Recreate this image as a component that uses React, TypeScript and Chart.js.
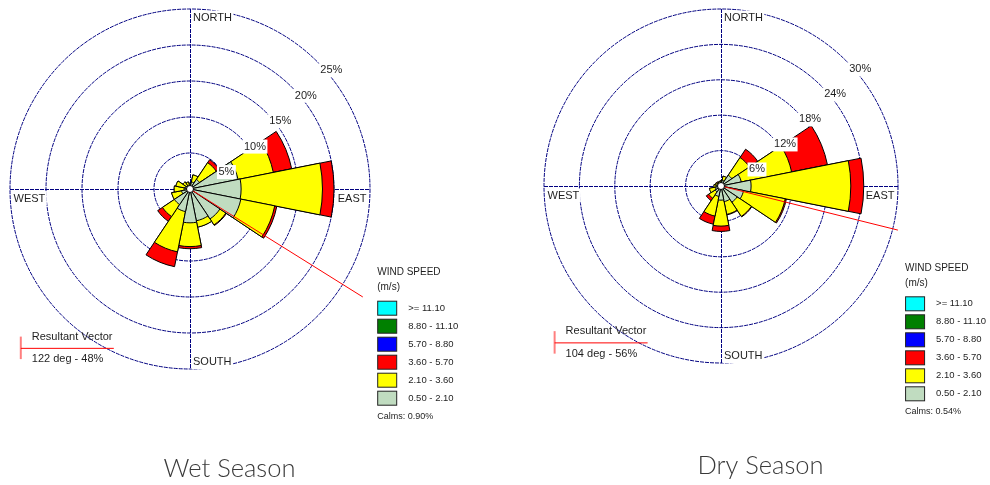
import React, { useEffect, useRef } from "react";
import { Chart, registerables } from "chart.js";

Chart.register(...registerables);

// ---------- data ----------
const directions = ["N", "NNE", "NE", "ENE", "E", "ESE", "SE", "SSE", "S", "SSW", "SW", "WSW", "W", "WNW", "NW", "NNW"];
const speedLabels = [">= 11.10", "8.80 - 11.10", "5.70 - 8.80", "3.60 - 5.70", "2.10 - 3.60", "0.50 - 2.10"];
const speedColors = ["#00ffff", "#008000", "#0000ff", "#ff0000", "#ffff00", "#c0dcc0"];

// Wet season frequency (%) per direction, by speed class
const wetLow = [0.5, 1.0, 1.6, 6.8, 7.1, 7.2, 5.0, 4.5, 4.7, 3.2, 2.6, 1.2, 0.8, 0.7, 0.5, 0.5]; // 0.50 - 2.10
const wetMid = [0.3, 1.0, 2.8, 5.0, 11.3, 4.8, 1.0, 0.9, 3.3, 5.7, 2.0, 1.4, 1.4, 1.3, 0.7, 0.5]; // 2.10 - 3.60
const wetHigh = [0, 0, 0.5, 2.6, 1.6, 0.3, 0.1, 0, 0.3, 2.1, 0.8, 0, 0, 0, 0, 0]; // 3.60 - 5.70

// Dry season frequency (%) per direction, by speed class
const dryLow = [0.6, 1.0, 2.2, 3.5, 5.1, 3.9, 3.3, 2.7, 2.4, 1.8, 1.2, 1.0, 0.8, 0.6, 0.5, 0.5];
const dryMid = [0.3, 0.7, 3.6, 8.7, 16.9, 7.2, 2.9, 2.2, 4.4, 3.4, 1.3, 1.0, 0.4, 0.4, 0.3, 0.3];
const dryHigh = [0, 0, 1.7, 6.2, 2.2, 0.2, 0.1, 0.1, 0.9, 1.4, 0.5, 0, 0, 0, 0.1, 0];

const wetRingMax = 25;
const wetRingStep = 5;
const dryRingMax = 30;
const dryRingStep = 6;

const wetCalms = "0.90%";
const dryCalms = "0.54%";
const wetResultant = { deg: 122, pct: 48, lineLength: 28.3 };
const dryResultant = { deg: 104, pct: 56, lineLength: 30.9 };

const cardinalLabels = ["NORTH", "EAST", "SOUTH", "WEST"];

// ---------- styles ----------
const GRID = "#000080";
const GRID_DASH = [4, 1];
const TEXT = "#1e1e1e";
const FONT = "'Liberation Sans', Arial, sans-serif";

type Panel = {
  key: string;
  title: string;
  low: number[];
  mid: number[];
  high: number[];
  max: number;
  step: number;
  calms: string;
  resultant: { deg: number; pct: number; lineLength: number };
  offsetX: number;
  padding: { left: number; top: number; right: number; bottom: number };
};

const panels: Panel[] = [
  {
    key: "wet",
    title: "Wet Season",
    low: wetLow,
    mid: wetMid,
    high: wetHigh,
    max: wetRingMax,
    step: wetRingStep,
    calms: wetCalms,
    resultant: wetResultant,
    offsetX: 0,
    padding: { left: 10, top: 9, right: 125, bottom: 116 },
  },
  {
    key: "dry",
    title: "Dry Season",
    low: dryLow,
    mid: dryMid,
    high: dryHigh,
    max: dryRingMax,
    step: dryRingStep,
    calms: dryCalms,
    resultant: dryResultant,
    offsetX: 495,
    padding: { left: 49, top: 9, right: 92, bottom: 122 },
  },
];

function boxedText(ctx: CanvasRenderingContext2D, text: string, x: number, y: number, align: CanvasTextAlign, font: string) {
  ctx.font = font;
  const w = ctx.measureText(text).width;
  const left = align === "left" ? x : align === "right" ? x - w : x - w / 2;
  ctx.fillStyle = "#ffffff";
  ctx.fillRect(left - 1.5, y - 7, w + 3, 14);
  ctx.fillStyle = TEXT;
  ctx.textAlign = align;
  ctx.textBaseline = "middle";
  ctx.fillText(text, x, y);
}

function plainText(ctx: CanvasRenderingContext2D, text: string, x: number, y: number, font: string, color = TEXT, align: CanvasTextAlign = "left") {
  ctx.font = font;
  ctx.fillStyle = color;
  ctx.textAlign = align;
  ctx.textBaseline = "middle";
  ctx.fillText(text, x, y);
}

function rosePlugin(panel: Panel) {
  return {
    id: "rose-" + panel.key,
    beforeDatasetsDraw(chart: any) {
      const s = chart.scales.r;
      const ctx: CanvasRenderingContext2D = chart.ctx;
      const R = s.drawingArea;
      const cx = s.xCenter;
      const cy = s.yCenter;
      ctx.save();
      ctx.strokeStyle = GRID;
      ctx.lineWidth = 1;
      ctx.setLineDash(GRID_DASH);
      ctx.beginPath();
      ctx.moveTo(cx + 0.5, cy - R);
      ctx.lineTo(cx + 0.5, cy + R);
      ctx.moveTo(cx - R, cy + 0.5);
      ctx.lineTo(cx + R, cy + 0.5);
      ctx.stroke();
      ctx.restore();
    },
    afterDatasetsDraw(chart: any) {
      const s = chart.scales.r;
      const ctx: CanvasRenderingContext2D = chart.ctx;
      const R = s.drawingArea;
      const cx = s.xCenter;
      const cy = s.yCenter;
      ctx.save();

      // resultant vector line
      const th = (panel.resultant.deg * Math.PI) / 180;
      const len = s.getDistanceFromCenterForValue(panel.resultant.lineLength);
      ctx.strokeStyle = "#ff0000";
      ctx.lineWidth = 1;
      ctx.beginPath();
      ctx.moveTo(cx, cy);
      ctx.lineTo(cx + len * Math.sin(th), cy - len * Math.cos(th));
      ctx.stroke();

      // calm circle
      ctx.beginPath();
      ctx.arc(cx, cy, 3.5, 0, Math.PI * 2);
      ctx.fillStyle = "#ffffff";
      ctx.fill();
      ctx.strokeStyle = "#000000";
      ctx.stroke();

      // ring labels at 45 deg
      const f11 = `11px ${FONT}`;
      s.ticks.forEach((t: any) => {
        if (t.value <= 0) return;
        const r = s.getDistanceFromCenterForValue(t.value);
        const px = cx + r * Math.SQRT1_2;
        const py = cy - r * Math.SQRT1_2;
        boxedText(ctx, `${t.value}%`, px + 3, py + 8.5, "left", f11);
      });

      // cardinal labels
      boxedText(ctx, cardinalLabels[0], cx + 3, cy - R + 8.5, "left", f11);
      boxedText(ctx, cardinalLabels[1], cx + R - 3.5, cy + 9.5, "right", f11);
      boxedText(ctx, cardinalLabels[2], cx + 3, cy + R - 7, "left", f11);
      boxedText(ctx, cardinalLabels[3], cx - R + 3.5, cy + 9.5, "left", f11);

      // wind speed legend
      const lx = cx + 1.04 * R;
      const ly = cy + 0.465 * R;
      plainText(ctx, "WIND SPEED", lx, ly, `10px ${FONT}`);
      plainText(ctx, "(m/s)", lx, ly + 14.5, `10px ${FONT}`);
      const rowStep = 18;
      const firstRow = ly + 35.5;
      speedLabels.forEach((lab, i) => {
        const yy = firstRow + i * rowStep;
        ctx.fillStyle = speedColors[i];
        ctx.fillRect(lx + 0.5, yy - 7, 19, 14);
        ctx.strokeStyle = "#222";
        ctx.lineWidth = 1;
        ctx.strokeRect(lx + 0.5, yy - 7, 19, 14);
        plainText(ctx, lab, lx + 31, yy, `9.5px ${FONT}`);
      });
      plainText(ctx, `Calms: ${panel.calms}`, lx, firstRow + speedLabels.length * rowStep, `9px ${FONT}`);

      // resultant vector legend
      const vx = cx - 0.94 * R;
      const t1 = cy + 0.82 * R;
      const t2 = t1 + 22.5;
      ctx.strokeStyle = "rgba(255,0,0,0.5)";
      ctx.lineWidth = 2;
      ctx.beginPath();
      ctx.moveTo(vx, t1);
      ctx.lineTo(vx, t2);
      ctx.stroke();
      ctx.strokeStyle = "#ff0000";
      ctx.lineWidth = 1;
      ctx.beginPath();
      ctx.moveTo(vx, (t1 + t2) / 2 + 0.5);
      ctx.lineTo(vx + 93, (t1 + t2) / 2 + 0.5);
      ctx.stroke();
      plainText(ctx, "Resultant Vector", vx + 11, t1, f11);
      plainText(ctx, `${panel.resultant.deg} deg - ${panel.resultant.pct}%`, vx + 11, t2, f11);

      // panel title
      plainText(ctx, panel.title, cx + 39.5, cy + 279.5, `300 25.5px Lato, 'Open Sans', sans-serif`, "#3a3a3a", "center");

      ctx.restore();
    },
  };
}

function RosePanel({ panel }: { panel: Panel }) {
  const ref = useRef<HTMLCanvasElement>(null);
  useEffect(() => {
    const canvas = ref.current;
    if (!canvas) return;
    const cumLow = panel.low.slice();
    const cumMid = panel.low.map((v, i) => v + panel.mid[i]);
    const cumHigh = cumMid.map((v, i) => v + panel.high[i]);
    const ds = (label: string, data: number[], color: string) => ({
      label,
      data,
      backgroundColor: color,
      borderColor: "#000000",
      borderWidth: 1,
    });
    const chart = new Chart(canvas, {
      type: "polarArea",
      data: {
        labels: directions,
        datasets: [
          ds(speedLabels[5], cumLow, speedColors[5]),
          ds(speedLabels[4], cumMid, speedColors[4]),
          ds(speedLabels[3], cumHigh, speedColors[3]),
        ],
      },
      options: {
        responsive: false,
        animation: false,
        events: [],
        layout: { padding: panel.padding },
        plugins: {
          legend: { display: false },
          tooltip: { enabled: false },
          title: { display: false },
        },
        scales: {
          r: {
            min: 0,
            max: panel.max,
            startAngle: -11.25,
            ticks: { display: false, stepSize: panel.step },
            grid: { circular: true, color: GRID, lineWidth: 1 },
            border: { dash: GRID_DASH },
            angleLines: { display: false },
            pointLabels: { display: false },
          },
        },
      } as any,
      plugins: [rosePlugin(panel)],
    });
    return () => chart.destroy();
  }, [panel]);
  return (
    <canvas
      ref={ref}
      width={495}
      height={485}
      style={{ position: "absolute", left: panel.offsetX, top: 0, width: 495, height: 485, display: "block" }}
    />
  );
}

export default function App() {
  return (
    <div style={{ position: "absolute", left: 0, top: 0, width: 990, height: 485, background: "#ffffff", overflow: "hidden" }}>
      {panels.map((p) => (
        <RosePanel key={p.key} panel={p} />
      ))}
    </div>
  );
}
